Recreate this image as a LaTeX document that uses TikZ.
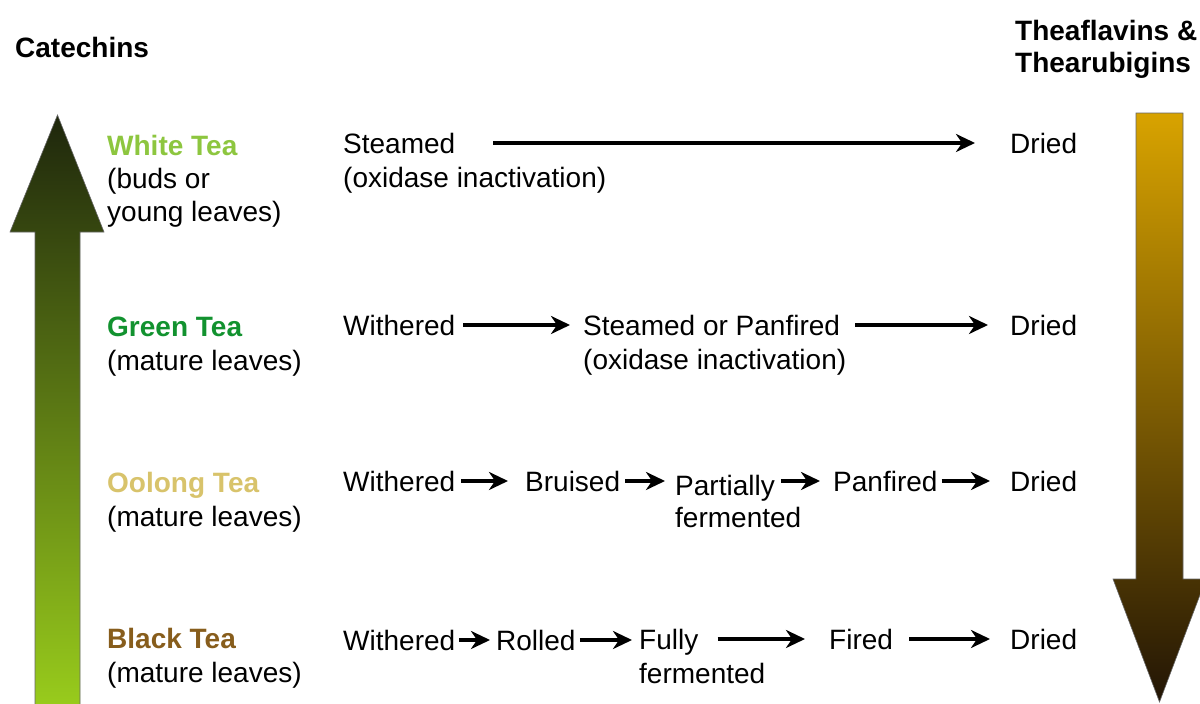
\documentclass[tikz,border=0pt]{standalone}
\usepackage{fontspec}
\setmainfont{Liberation Sans}
\usetikzlibrary{arrows.meta}
\definecolor{whitetea}{HTML}{8DC63F}
\definecolor{greentea}{HTML}{12922F}
\definecolor{oolongtea}{HTML}{D8C36B}
\definecolor{blacktea}{HTML}{875D1C}
\definecolor{cattop}{HTML}{1E260C}
\definecolor{catmid}{HTML}{4C6A14}
\definecolor{catbot}{HTML}{98CB1C}
\definecolor{thtop}{HTML}{D8A300}
\definecolor{thmid}{HTML}{8C6606}
\definecolor{thbot}{HTML}{221505}
\begin{document}
\begin{tikzpicture}[x=1pt,y=-1pt]

\tikzset{txt/.style={font=\fontsize{28}{34}\selectfont,inner sep=0pt,anchor=base west}}
\tikzset{tea/.style={txt,font=\fontsize{28}{34}\selectfont\bfseries}}
\tikzset{flow/.style={line width=4.2pt,-{Stealth[length=19pt,width=18pt,inset=6pt]}}}

\useasboundingbox (0,0) rectangle (1200,704);

% big arrows
\shade[top color=cattop,middle color=catmid,bottom color=catbot,draw=black!60,line width=0.6pt]
  (35,704) -- (35,232) -- (10,232) -- (57.5,115) -- (104,232) -- (80,232) -- (80,704);
\shade[top color=thtop,middle color=thmid,bottom color=thbot,draw=black!60,line width=0.6pt]
  (1136,113) -- (1183,113) -- (1183,579) -- (1206,579) -- (1159.5,702) -- (1113,579) -- (1136,579) -- cycle;

\node[tea] (cat) at (15,57) {Catechins};
\node[tea] (tf) at (1015,40) {Theaflavins \&};
\node[tea] (tr) at (1015,72) {Thearubigins};

% white tea
\node[tea,text=whitetea] (white) at (107,155) {White Tea};
\node[txt] (whitebuds) at (107,188) {(buds or};
\node[txt] (whiteyoung) at (107,221) {young leaves)};
\node[txt] (steam1) at (343,153) {Steamed};
\node[txt] (steam1note) at (343,187) {(oxidase inactivation)};
\node[txt] (dry1) at (1010,153) {Dried};
\draw[flow,shorten <=38pt,shorten >=35pt] (steam1.east) -- (steam1.east -| dry1.west);

% green tea
\node[tea,text=greentea] (green) at (107,336) {Green Tea};
\node[txt] (greenleaves) at (107,370) {(mature leaves)};
\node[txt] (wither2) at (343,335) {Withered};
\node[txt] (steam2) at (583,335) {Steamed or Panfired};
\node[txt] (steam2note) at (583,369) {(oxidase inactivation)};
\node[txt] (dry2) at (1010,335) {Dried};
\draw[flow,shorten <=8pt,shorten >=13pt] (wither2.east) -- (wither2.east -| steam2.west);
\draw[flow,shorten <=15pt,shorten >=22pt] (steam2.east |- wither2.east) -- (wither2.east -| dry2.west);

% oolong tea
\node[tea,text=oolongtea] (oolong) at (107,492) {Oolong Tea};
\node[txt] (oolongleaves) at (107,526) {(mature leaves)};
\node[txt] (wither3) at (343,491) {Withered};
\node[txt] (bruise3) at (525,491) {Bruised};
\node[txt] (partial3) at (675,495) {Partially};
\node[txt] (partial3b) at (675,527) {fermented};
\node[txt] (pan3) at (833,491) {Panfired};
\node[txt] (dry3) at (1010,491) {Dried};
\draw[flow,shorten <=6pt,shorten >=17pt] (wither3.east) -- (wither3.east -| bruise3.west);
\draw[flow,shorten <=5pt,shorten >=10pt] (bruise3.east) -- (bruise3.east -| partial3.west);
\draw[flow,shorten <=6pt,shorten >=13pt] (partial3.east |- pan3.east) -- (pan3.west);
\draw[flow,shorten <=4pt,shorten >=20pt] (pan3.east) -- (pan3.east -| dry3.west);

% black tea
\node[tea,text=blacktea] (black) at (107,648) {Black Tea};
\node[txt] (blackleaves) at (107,682) {(mature leaves)};
\node[txt] (wither4) at (343,650) {Withered};
\node[txt] (roll4) at (496,650) {Rolled};
\node[txt] (fully4) at (639,649) {Fully};
\node[txt] (fully4b) at (639,683) {fermented};
\node[txt] (fire4) at (829,649) {Fired};
\node[txt] (dry4) at (1010,649) {Dried};
\draw[flow,shorten <=4pt,shorten >=6pt] (wither4.east) -- (wither4.east -| roll4.west);
\draw[flow,shorten <=4pt,shorten >=7pt] (roll4.east) -- (roll4.east -| fully4.west);
\draw[flow,shorten <=19pt,shorten >=24pt] (fully4.east |- fire4.east) -- (fire4.west);
\draw[flow,shorten <=16pt,shorten >=20pt] (fire4.east) -- (fire4.east -| dry4.west);

\end{tikzpicture}
\end{document}
